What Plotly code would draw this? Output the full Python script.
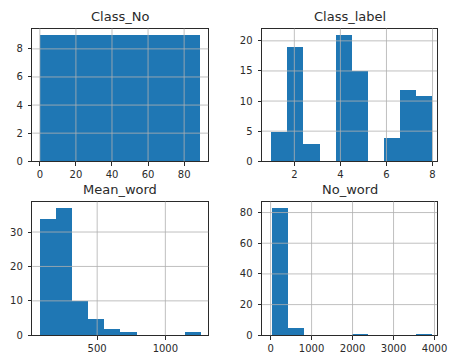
import plotly.graph_objects as go

# Histogram bin counts (10 equal-width bins per column) and each column's data range
class_no_min, class_no_max = 0, 89
class_no_counts = [9, 9, 9, 9, 9, 9, 9, 9, 9, 9]

class_label_min, class_label_max = 1, 8
class_label_counts = [5, 19, 3, 0, 21, 15, 0, 4, 12, 11]

mean_word_min, mean_word_max = 80, 1265
mean_word_counts = [34, 37, 10, 5, 2, 1, 0, 0, 0, 1]

no_word_min, no_word_max = 24, 3938
no_word_counts = [83, 5, 0, 0, 0, 1, 0, 0, 0, 1]

# tick labels for each panel
class_no_xticks = [0, 20, 40, 60, 80]
class_no_yticks = [0, 2, 4, 6, 8]
class_label_xticks = [2, 4, 6, 8]
class_label_yticks = [0, 5, 10, 15, 20]
mean_word_xticks = [500, 1000]
mean_word_yticks = [0, 10, 20, 30]
no_word_xticks = [0, 1000, 2000, 3000, 4000]
no_word_yticks = [0, 20, 40, 60, 80]

W, H = 453, 358
BAR = "#1f77b4"
GRID = "#b0b0b0"
INK = "#2a2a2a"
FONT = "DejaVu Sans"

# title, data range, counts, ticks, visible x range, pixel box (x0, x1), (top, bottom)
panels = [
    ("Class_No", class_no_min, class_no_max, class_no_counts, class_no_xticks, class_no_yticks,
     (-4.2, 93.4), (33, 213), (29, 164)),
    ("Class_label", class_label_min, class_label_max, class_label_counts, class_label_xticks, class_label_yticks,
     (0.6, 8.2), (268, 447), (29, 164)),
    ("Mean_word", mean_word_min, mean_word_max, mean_word_counts, mean_word_xticks, mean_word_yticks,
     (24, 1315), (33, 213), (205, 341)),
    ("No_word", no_word_min, no_word_max, no_word_counts, no_word_xticks, no_word_yticks,
     (-208, 4064), (268, 447), (205, 341)),
]

fig = go.Figure()
layout = {}
shapes = []
annotations = []

for i, (title, lo, hi, counts, xt, yt, xr, (px0, px1), (py0, py1)) in enumerate(panels):
    k = "" if i == 0 else str(i + 1)
    n = len(counts)
    bw = (hi - lo) / n
    centers = [lo + bw * (j + 0.5) for j in range(n)]
    fig.add_trace(go.Bar(
        x=centers, y=counts, width=[bw] * n,
        marker=dict(color=BAR, line=dict(width=0)),
        xaxis="x" + k, yaxis="y" + k, showlegend=False, hoverinfo="x+y",
    ))

    yr = [0, max(counts) * 1.05]

    common = dict(
        showline=True, mirror=True, linecolor=INK, linewidth=1,
        ticks="outside", ticklen=3.5, tickwidth=1, tickcolor=INK,
        showgrid=False, zeroline=False, fixedrange=True,
        ticklabeloverflow="allow",
        tickfont=dict(family=FONT, size=10, color=INK),
    )
    layout["xaxis" + k] = dict(
        common, domain=[px0 / W, px1 / W], range=list(xr),
        tickmode="array", tickvals=xt, ticktext=[str(v) for v in xt],
        anchor="y" + k,
    )
    layout["yaxis" + k] = dict(
        common, domain=[1 - py1 / H, 1 - py0 / H], range=yr,
        tickmode="array", tickvals=yt, ticktext=[str(v) for v in yt],
        anchor="x" + k, ticklabelstandoff=3,
    )

    # grid lines drawn over the bars
    for v in xt:
        if xr[0] < v < xr[1]:
            shapes.append(dict(type="line", xref="x" + k, yref="y" + k + " domain",
                               x0=v, x1=v, y0=0, y1=1, layer="above",
                               line=dict(color=GRID, width=0.8)))
    for v in yt:
        if yr[0] < v < yr[1]:
            shapes.append(dict(type="line", xref="x" + k + " domain", yref="y" + k,
                               x0=0, x1=1, y0=v, y1=v, layer="above",
                               line=dict(color=GRID, width=0.8)))

    annotations.append(dict(
        text=title, xref="paper", yref="paper",
        x=(px0 + px1) / 2 / W, y=1 - (py0 - 12) / H,
        xanchor="center", yanchor="middle", showarrow=False,
        font=dict(family=FONT, size=13, color=INK),
    ))

fig.update_layout(
    **layout,
    shapes=shapes,
    annotations=annotations,
    width=W, height=H,
    margin=dict(l=0, r=0, t=0, b=0),
    paper_bgcolor="white", plot_bgcolor="white",
    bargap=0,
    showlegend=False,
)

fig.write_html("out.html", config={"displayModeBar": False})
